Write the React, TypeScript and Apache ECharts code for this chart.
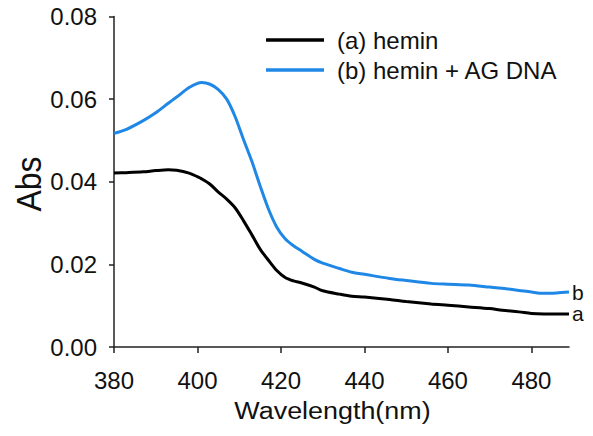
import React, { useEffect, useRef } from "react";
import * as echarts from "echarts";

const wavelength = [380, 383, 387, 390, 393, 395, 398, 400, 401, 403, 405, 407, 409, 411, 413, 415, 417, 419, 421, 423, 425, 428, 430, 434, 437, 440, 446, 450, 456, 460, 465, 470, 473, 477, 480, 483, 486, 489];

const heminA = [0.0421, 0.0422, 0.0424, 0.0427, 0.0429, 0.0428, 0.0421, 0.0412, 0.0407, 0.0394, 0.0375, 0.0358, 0.0337, 0.0306, 0.0272, 0.0237, 0.021, 0.0185, 0.0168, 0.016, 0.0155, 0.0145, 0.0136, 0.0128, 0.0123, 0.0121, 0.0115, 0.011, 0.0104, 0.0101, 0.0097, 0.0093, 0.0089, 0.0085, 0.0081, 0.008, 0.008, 0.008];

const heminB = [0.0517, 0.0527, 0.0548, 0.0567, 0.059, 0.0605, 0.0628, 0.0638, 0.064, 0.0636, 0.0623, 0.06, 0.0558, 0.0503, 0.045, 0.039, 0.0334, 0.029, 0.0262, 0.0245, 0.0232, 0.0212, 0.0203, 0.019, 0.0181, 0.0176, 0.0166, 0.0161, 0.0154, 0.0152, 0.015, 0.0145, 0.0142, 0.0137, 0.0133, 0.013, 0.0131, 0.0133];

const seriesNames = ["(a) hemin", "(b) hemin + AG DNA"];
const endLabels = ["a", "b"];
const colors = ["#000000", "#1f87e5"];

const FONT = "'Liberation Sans', Arial, sans-serif";

export default function App() {
  const ref = useRef<HTMLDivElement>(null);
  useEffect(() => {
    if (!ref.current) return;
    const chart = echarts.init(ref.current, null, { renderer: "svg" });
    const mk = (vals: number[]) => wavelength.map((w, i) => [w, vals[i]]);
    const data = [mk(heminA), mk(heminB)];
    chart.setOption({
      animation: false,
      textStyle: { fontFamily: FONT },
      grid: { left: 114, right: 24, top: 16.5, bottom: 89, containLabel: false },
      legend: {
        show: true,
        orient: "vertical",
        left: 266,
        top: 28,
        padding: 0,
        itemWidth: 58,
        itemHeight: 3.5,
        itemGap: 6,
        icon: "rect",
        textStyle: { fontSize: 24, color: "#111", fontFamily: FONT, padding: [0, 0, 0, 8] },
        data: seriesNames,
      },
      xAxis: {
        type: "value",
        min: 380,
        max: 489,
        interval: 20,
        splitLine: { show: false },
        axisLine: { show: true, lineStyle: { color: "#222", width: 1.5 } },
        axisTick: { show: true, length: 6, lineStyle: { color: "#222", width: 1.5 } },
        axisLabel: { fontSize: 24, color: "#111", margin: 21, fontFamily: FONT, showMaxLabel: false },
      },
      yAxis: {
        type: "value",
        min: 0,
        max: 0.08,
        interval: 0.02,
        splitLine: { show: false },
        axisLine: { show: true, lineStyle: { color: "#222", width: 1.5 } },
        axisTick: { show: true, length: 5, lineStyle: { color: "#222", width: 1.5 } },
        axisLabel: {
          fontSize: 24,
          color: "#111",
          margin: 17,
          fontFamily: FONT,
          formatter: (v: number) => v.toFixed(2),
        },
      },
      series: data.map((d, i) => ({
        name: seriesNames[i],
        type: "line",
        data: d,
        showSymbol: false,
        symbol: "none",
        smooth: 0.3,
        lineStyle: { color: colors[i], width: 3 },
        itemStyle: { color: colors[i] },
        endLabel: {
          show: true,
          formatter: endLabels[i],
          fontSize: 21,
          color: "#111",
          fontFamily: FONT,
          distance: 3,
        },
      })),
      graphic: [
        {
          type: "text",
          x: 332.5,
          y: 411,
          scaleX: 1.17,
          style: {
            text: "Wavelength(nm)",
            fontSize: 23,
            fontFamily: FONT,
            fill: "#111",
            align: "center",
            verticalAlign: "middle",
          },
        },
        {
          type: "text",
          x: 29,
          y: 184,
          rotation: Math.PI / 2,
          scaleY: 1.1,
          style: {
            text: "Abs",
            fontSize: 32,
            fontFamily: FONT,
            fill: "#111",
            align: "center",
            verticalAlign: "middle",
          },
        },
      ],
    });
    return () => chart.dispose();
  }, []);
  return (
    <div
      ref={ref}
      style={{ position: "absolute", left: 0, top: 0, width: 593, height: 436, background: "#fff" }}
    />
  );
}
